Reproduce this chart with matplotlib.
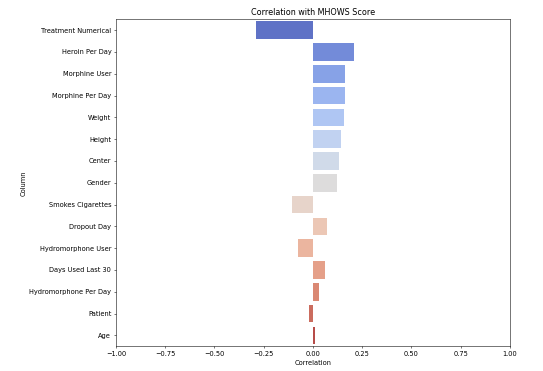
import matplotlib
matplotlib.use("Agg")
import matplotlib.pyplot as plt
import seaborn as sns
import numpy as np

columns = ["Treatment Numerical", "Heroin Per Day", "Morphine User", "Morphine Per Day",
           "Weight", "Height", "Center", "Gender", "Smokes Cigarettes", "Dropout Day",
           "Hydromorphone User", "Days Used Last 30", "Hydromorphone Per Day", "Patient", "Age"]
correlations = [-0.289, 0.208, 0.161, 0.162, 0.156, 0.142, 0.130, 0.124, -0.107, 0.073,
                -0.075, 0.061, 0.029, -0.022, 0.010]

pal = sns.color_palette("coolwarm", len(columns))
colors = [sns.desaturate(c, 0.75) for c in pal]

DPI = 48
fig = plt.figure(figsize=(543/DPI, 371/DPI), dpi=DPI)
ax = fig.add_axes([0.2136, 0.0666, 0.939-0.2136, 0.948-0.0666])
y = np.arange(len(columns))
ax.barh(y, correlations, height=0.8, color=colors)
ax.set_yticks(y)
ax.set_yticklabels(columns)
ax.set_ylim(len(columns) - 0.5, -0.5)
ax.set_xlim(-1, 1)
ax.set_xticks(np.arange(-1, 1.01, 0.25))
ax.set_xlabel("Correlation")
ax.set_ylabel("Column")
ax.set_title("Correlation with MHOWS Score")
fig.savefig("out.png", dpi=DPI)
